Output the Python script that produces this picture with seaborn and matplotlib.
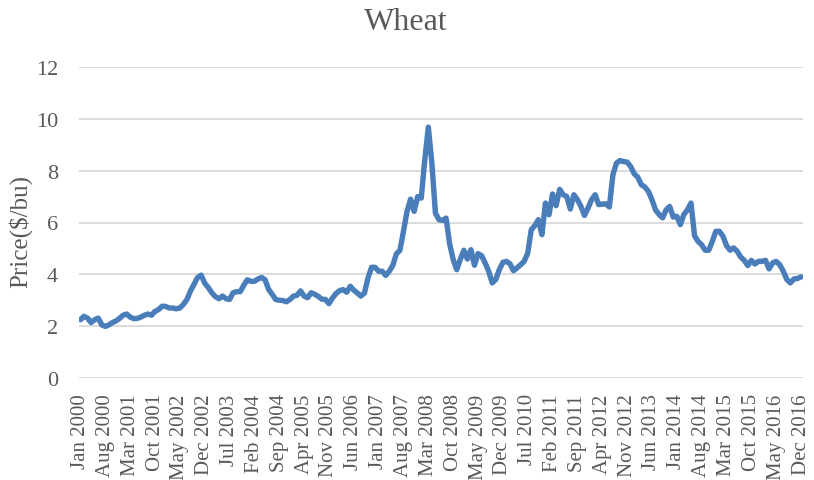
import matplotlib
matplotlib.use("Agg")
import matplotlib.pyplot as plt
import seaborn as sns
import pandas as pd
import numpy as np

# Monthly wheat price ($/bu), Jan 2000 .. Dec 2016
price = [
    2.25, 2.38, 2.31, 2.14, 2.25, 2.31, 2.05, 1.99, 2.05, 2.14, 2.20, 2.30,   # 2000
    2.42, 2.47, 2.35, 2.29, 2.30, 2.35, 2.42, 2.47, 2.42, 2.57, 2.64, 2.77,   # 2001
    2.76, 2.70, 2.70, 2.67, 2.70, 2.84, 3.03, 3.36, 3.62, 3.88, 3.97, 3.66,   # 2002
    3.49, 3.29, 3.14, 3.06, 3.16, 3.06, 3.03, 3.29, 3.33, 3.33, 3.58, 3.79,   # 2003
    3.73, 3.73, 3.82, 3.88, 3.79, 3.42, 3.23, 3.03, 3.00, 2.99, 2.94, 3.03,   # 2004
    3.16, 3.19, 3.36, 3.16, 3.10, 3.29, 3.23, 3.15, 3.04, 3.03, 2.87, 3.09,   # 2005
    3.26, 3.37, 3.41, 3.31, 3.54, 3.39, 3.28, 3.16, 3.28, 3.86, 4.27, 4.27,   # 2006
    4.12, 4.12, 3.96, 4.12, 4.35, 4.79, 4.93, 5.66, 6.43, 6.90, 6.43, 7.00,   # 2007
    6.94, 8.42, 9.68, 8.29, 6.36, 6.11, 6.08, 6.17, 5.18, 4.57, 4.18, 4.57,   # 2008
    4.93, 4.59, 4.95, 4.35, 4.80, 4.72, 4.44, 4.12, 3.67, 3.80, 4.18, 4.46,   # 2009
    4.50, 4.41, 4.14, 4.25, 4.37, 4.50, 4.82, 5.72, 5.88, 6.11, 5.53, 6.75,   # 2010
    6.30, 7.10, 6.65, 7.28, 7.07, 7.00, 6.52, 7.07, 6.88, 6.62, 6.27, 6.56,   # 2011
    6.88, 7.07, 6.69, 6.71, 6.72, 6.60, 7.84, 8.29, 8.39, 8.35, 8.33, 8.16,   # 2012
    7.88, 7.75, 7.46, 7.37, 7.20, 6.88, 6.49, 6.31, 6.18, 6.49, 6.62, 6.21,   # 2013
    6.24, 5.92, 6.31, 6.49, 6.75, 5.49, 5.27, 5.14, 4.93, 4.93, 5.27, 5.66,   # 2014
    5.66, 5.47, 5.11, 4.93, 5.02, 4.89, 4.67, 4.54, 4.34, 4.54, 4.40, 4.50,   # 2015
    4.50, 4.54, 4.21, 4.44, 4.50, 4.37, 4.12, 3.80, 3.67, 3.82, 3.84, 3.90,   # 2016
]

tick_labels = [
    "Jan 2000", "Aug 2000", "Mar 2001", "Oct 2001", "May 2002", "Dec 2002",
    "Jul 2003", "Feb 2004", "Sep 2004", "Apr 2005", "Nov 2005", "Jun 2006",
    "Jan 2007", "Aug 2007", "Mar 2008", "Oct 2008", "May 2009", "Dec 2009",
    "Jul 2010", "Feb 2011", "Sep 2011", "Apr 2012", "Nov 2012", "Jun 2013",
    "Jan 2014", "Aug 2014", "Mar 2015", "Oct 2015", "May 2016", "Dec 2016",
]
y_ticks = [0, 2, 4, 6, 8, 10, 12]

df = pd.DataFrame({"month": np.arange(len(price)), "price": price})

sns.set_theme(style="white")
plt.rcParams["font.family"] = ["Liberation Serif", "DejaVu Serif"]
text_color = "#595959"

fig = plt.figure(figsize=(8.14, 4.81), dpi=100)
ax = fig.add_axes([78.7 / 814, 1 - 379 / 481, (802.8 - 78.7) / 814, (379 - 68) / 481])

sns.lineplot(data=df, x="month", y="price", ax=ax, color="#4a7ebb",
             linewidth=3.9, zorder=3)

ax.set_xlim(-0.5, len(price) - 0.5)
ax.set_ylim(0, 12)
ax.set_yticks(y_ticks)
ax.set_yticklabels([str(v) for v in y_ticks], fontsize=16, color=text_color)
ax.set_xticks(np.arange(0, len(price), 7))
ax.set_xticklabels(tick_labels, rotation=90, fontsize=15, color=text_color)
ax.tick_params(axis="x", length=0, pad=11)
ax.tick_params(axis="y", length=0, pad=15)

ax.grid(axis="y", color="#d9d9d9", linewidth=1.3)
ax.grid(axis="x", visible=False)
for s in ax.spines.values():
    s.set_visible(False)

ax.set_xlabel("")
ax.set_ylabel("")
fig.text(20 / 814, 1 - 232 / 481, "Price($/bu)", rotation=90, ha="center",
         va="center", fontsize=18, color=text_color)
fig.text(406 / 814, 1 - 22 / 481, "Wheat", ha="center", va="center",
         fontsize=23, color=text_color)

fig.savefig("out.png", dpi=100)
